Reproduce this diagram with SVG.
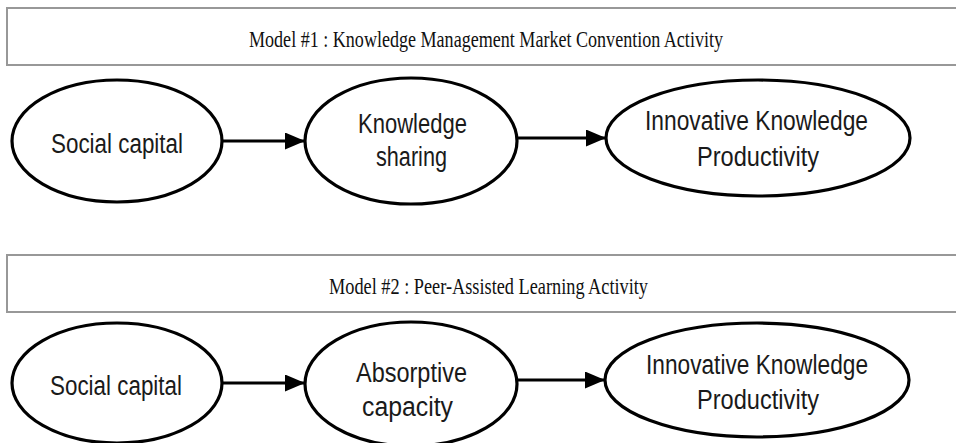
<svg xmlns="http://www.w3.org/2000/svg" width="956" height="443" viewBox="0 0 956 443">
<style>
.box{fill:#fff;stroke:#989898;stroke-width:2}
.hdr{font-family:"Liberation Serif","Times New Roman",serif;font-size:24px;fill:#111}
.node{fill:#fff;stroke:#000;stroke-width:3.2}
.lbl{font-family:"Liberation Sans",Arial,sans-serif;font-size:27px;fill:#1a1a1a}
.edge{stroke:#000;stroke-width:3;fill:none}
</style>
<defs>
<marker id="ah" markerUnits="userSpaceOnUse" markerWidth="21" markerHeight="18" refX="20" refY="8.5" orient="auto">
<path d="M0,0 L20,8.5 L0,17 z" fill="#000"/>
</marker>
</defs>
<rect width="956" height="443" fill="#fff"/>
<g id="header1">
<rect class="box" x="7" y="8" width="960" height="57"/>
<text class="hdr" x="249" y="47" textLength="474" lengthAdjust="spacingAndGlyphs">Model #1 : Knowledge Management Market Convention Activity</text>
</g>
<g id="header2">
<rect class="box" x="7" y="255" width="960" height="57"/>
<text class="hdr" x="329" y="294" textLength="319" lengthAdjust="spacingAndGlyphs">Model #2 : Peer-Assisted Learning Activity</text>
</g>
<g id="m1-social">
<ellipse class="node" cx="117" cy="141" rx="105" ry="61"/>
<text class="lbl" x="51" y="153" textLength="132" lengthAdjust="spacingAndGlyphs">Social capital</text>
</g>
<g id="m1-sharing">
<ellipse class="node" cx="411" cy="141" rx="106" ry="63"/>
<text class="lbl" x="358" y="133" textLength="109" lengthAdjust="spacingAndGlyphs">Knowledge</text>
<text class="lbl" x="376" y="166" textLength="71" lengthAdjust="spacingAndGlyphs">sharing</text>
</g>
<g id="m1-ikp">
<ellipse class="node" cx="758" cy="138" rx="152" ry="58"/>
<text class="lbl" x="645" y="130" textLength="223" lengthAdjust="spacingAndGlyphs">Innovative Knowledge</text>
<text class="lbl" x="697" y="166" textLength="122" lengthAdjust="spacingAndGlyphs">Productivity</text>
</g>
<g id="m2-social">
<ellipse class="node" cx="117" cy="383" rx="105" ry="60"/>
<text class="lbl" x="50" y="395" textLength="132" lengthAdjust="spacingAndGlyphs">Social capital</text>
</g>
<g id="m2-absorptive">
<ellipse class="node" cx="411" cy="384" rx="106" ry="62"/>
<text class="lbl" x="356" y="382" textLength="111" lengthAdjust="spacingAndGlyphs">Absorptive</text>
<text class="lbl" x="362" y="416" textLength="91" lengthAdjust="spacingAndGlyphs">capacity</text>
</g>
<g id="m2-ikp">
<ellipse class="node" cx="757" cy="380" rx="152" ry="57"/>
<text class="lbl" x="646" y="374" textLength="222" lengthAdjust="spacingAndGlyphs">Innovative Knowledge</text>
<text class="lbl" x="697" y="409" textLength="122" lengthAdjust="spacingAndGlyphs">Productivity</text>
</g>
<g id="connectors">
<line class="edge" x1="222" y1="141" x2="305" y2="141" marker-end="url(#ah)"/>
<line class="edge" x1="517" y1="138" x2="606" y2="138" marker-end="url(#ah)"/>
<line class="edge" x1="222" y1="383" x2="305" y2="383" marker-end="url(#ah)"/>
<line class="edge" x1="517" y1="380" x2="605" y2="380" marker-end="url(#ah)"/>
</g>
</svg>
